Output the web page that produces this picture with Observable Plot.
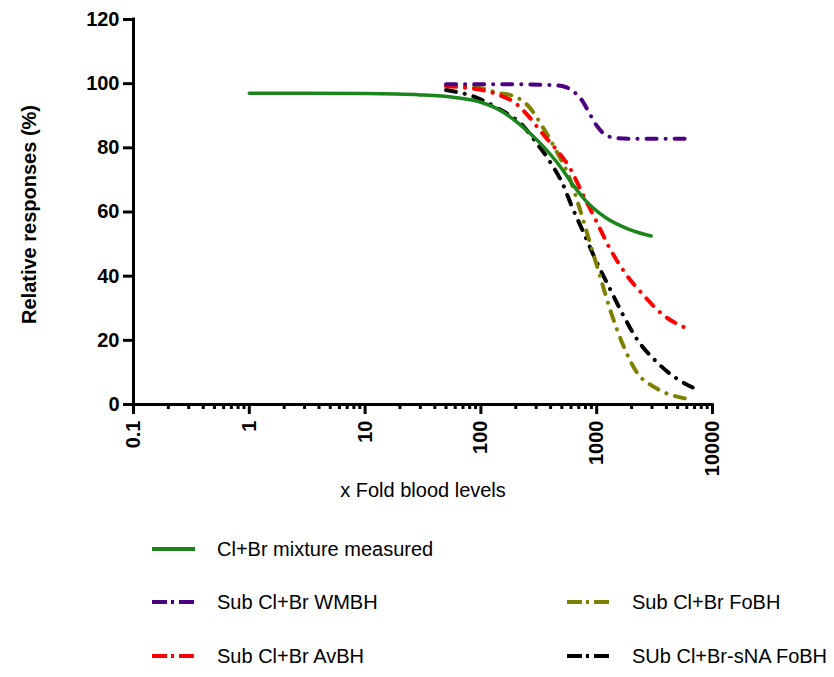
<!DOCTYPE html>
<html><head><meta charset="utf-8">
<script src="https://cdn.jsdelivr.net/npm/d3@7"></script>
<script src="https://cdn.jsdelivr.net/npm/@observablehq/plot@0.6"></script>
<style>
body{margin:0;background:#fff;font-family:"Liberation Sans",Arial,sans-serif;}
#wrap{position:relative;width:834px;height:677px;overflow:hidden;}
#legend{position:absolute;left:0;top:515px;width:834px;height:162px;}
.item{position:absolute;display:flex;align-items:center;height:24px;font-size:20px;color:#000;white-space:nowrap;}
.item svg{margin-right:22px;}
</style></head><body><div id="wrap"><div id="chart"></div><div id="legend"></div></div>
<script>
// ---- data ----
const xTicks = [0.1, 1, 10, 100, 1000, 10000];
const xTickLabels = ["0.1", "1", "10", "100", "1000", "10000"];
const yTicks = [0, 20, 40, 60, 80, 100, 120];
const xLabel = "x Fold blood levels";
const yLabel = "Relative responses (%)";

const seriesNames = ["Cl+Br mixture measured", "Sub Cl+Br WMBH", "Sub Cl+Br AvBH", "Sub Cl+Br FoBH", "SUb Cl+Br-sNA FoBH"];
const seriesColors = ["#1a851a", "#4b0082", "#ff0000", "#808000", "#000000"];

const greenX = [1, 3, 10, 30, 60, 100, 150, 215, 320, 500, 620, 810, 1200, 1900, 2950];
const greenY = [97, 97, 96.9, 96.5, 95.7, 94.2, 91.5, 87.4, 81.7, 73.5, 68.6, 63.4, 58.2, 54.6, 52.5];

const purpleX = [50, 100, 200, 400, 510, 617, 750, 870, 1000, 1200, 1500, 2500, 6700];
const purpleY = [99.8, 99.8, 99.8, 99.6, 99.2, 97.8, 94.7, 90.6, 86.9, 84, 83, 82.8, 82.8];

const redX = [50, 70, 135, 202, 263, 343, 447, 582, 759, 990, 1291, 1798, 2503, 3721, 5930];
const redY = [99.2, 98.8, 96.8, 93.7, 89.5, 84.3, 79.5, 73.9, 65.5, 57.2, 48.8, 40.5, 34.3, 28, 23.8];

const oliveX = [50, 100, 135, 202, 263, 343, 447, 582, 710, 866, 1058, 1291, 1683, 2195, 3266, 5930];
const oliveY = [99.4, 98.6, 97.3, 95.8, 92.6, 86.4, 79.1, 70.7, 61.3, 50.9, 40.5, 30.1, 18.7, 10.3, 5.1, 1.8];

const blackX = [50, 97, 135, 230, 300, 391, 509, 617, 759, 990, 1291, 1683, 2195, 3266, 4853, 6761];
const blackY = [98, 95.3, 92.6, 86.9, 81.7, 75.9, 68.7, 61.3, 54.1, 44.7, 36.3, 28, 20.7, 13.4, 8.2, 5.3];

// ---- build tables ----
const seriesXY = [[greenX, greenY], [purpleX, purpleY], [redX, redY], [oliveX, oliveY], [blackX, blackY]];
const tables = seriesXY.map(([xs, ys], k) => xs.map((x, i) => ({series: seriesNames[k], x, y: ys[i]})));

const xMinor = [];
for (let e = -1; e < 4; e++) for (let m = 2; m <= 9; m++) xMinor.push(m * Math.pow(10, e));

const dash = "10,9,0.1,9";
const lineMark = (k, extra) => Plot.line(tables[k], Object.assign({
  x: "x", y: "y", stroke: seriesColors[k], strokeWidth: 4, curve: "monotone-x"
}, extra));

const plot = Plot.plot({
  width: 834, height: 515,
  marginLeft: 133, marginRight: 122, marginTop: 19, marginBottom: 111,
  style: {fontFamily: "'Liberation Sans', Arial, sans-serif", background: "#fff", overflow: "visible"},
  x: {type: "log", domain: [0.1, 10000]},
  y: {domain: [0, 120]},
  marks: [
    Plot.axisY(yTicks, {tickSize: 10, strokeWidth: 3, tickPadding: 4, fontSize: 20, fontWeight: "bold", label: null, tickFormat: d => String(d), fill: "#000"}),
    Plot.axisX(xMinor, {tickSize: 5, strokeWidth: 3, tickFormat: () => "", label: null}),
    Plot.axisX(xTicks, {tickSize: 10, strokeWidth: 3, tickRotate: -90, tickPadding: 6, fontSize: 20, fontWeight: "bold", label: null, tickFormat: d => xTickLabels[xTicks.indexOf(d)], fill: "#000"}),
    Plot.ruleX([0.1], {strokeWidth: 3, strokeLinecap: "square"}),
    Plot.ruleY([0], {strokeWidth: 3, strokeLinecap: "square"}),
    lineMark(4, {strokeDasharray: dash, strokeLinecap: "round"}),
    lineMark(3, {strokeDasharray: dash, strokeLinecap: "round"}),
    lineMark(2, {strokeDasharray: dash, strokeLinecap: "round"}),
    lineMark(1, {strokeDasharray: dash, strokeLinecap: "round"}),
    lineMark(0, {strokeWidth: 3.5}),
    Plot.text([yLabel], {frameAnchor: "left", dx: -104, dy: 2.5, rotate: -90, textAnchor: "middle", lineAnchor: "middle", fontSize: 20, fontWeight: "bold", fill: "#000"}),
    Plot.text([xLabel], {frameAnchor: "bottom", dy: 86, textAnchor: "middle", lineAnchor: "middle", fontSize: 20, fill: "#000"})
  ]
});
document.getElementById("chart").appendChild(plot);

// ---- legend (HTML below the SVG) ----
const legendPos = [[152, 34], [152, 87], [152, 141], [567, 87], [567, 141]];
const legend = document.getElementById("legend");
seriesNames.forEach((name, k) => {
  const div = document.createElement("div");
  div.className = "item";
  div.style.left = legendPos[k][0] + "px";
  div.style.top = (legendPos[k][1] - 12) + "px";
  const da = k === 0 ? "" : ` stroke-dasharray="15,4,3,5"`;
  div.innerHTML = `<svg width="43" height="8"><line x1="0" y1="4" x2="43" y2="4" stroke="${seriesColors[k]}" stroke-width="4"${da}/></svg><span>${name}</span>`;
  legend.appendChild(div);
});
</script>
</body></html>
